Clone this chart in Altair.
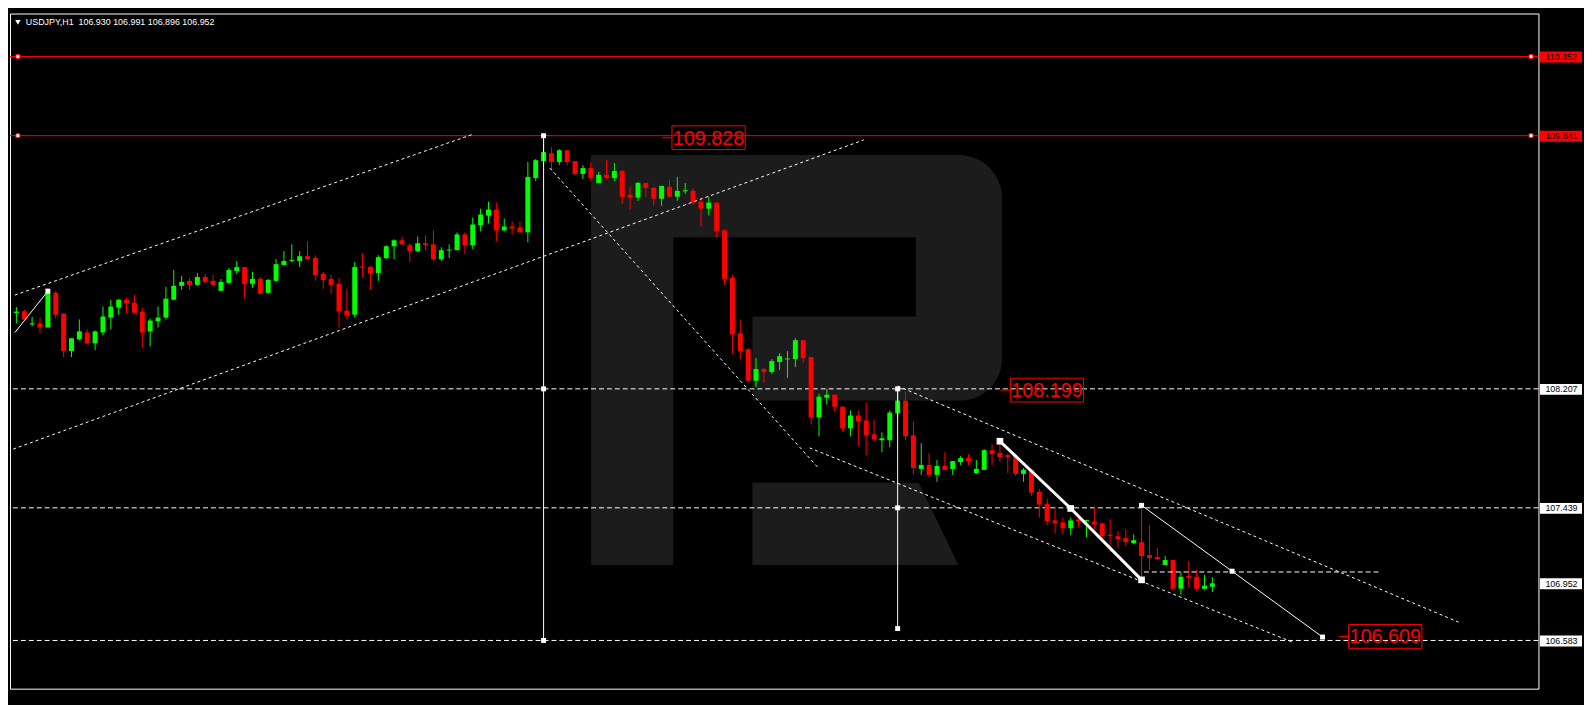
import json
import altair as alt
import pandas as pd

# ---------------- data ----------------
symbol = "USDJPY"
timeframe = "H1"

opens = [108.697, 108.708, 108.623, 108.629, 108.603, 108.827, 108.693, 108.452, 108.527, 108.571,
         108.501, 108.571, 108.667, 108.731, 108.782, 108.763, 108.706, 108.578, 108.642, 108.667,
         108.782, 108.872, 108.904, 108.878, 108.929, 108.904, 108.840, 108.891, 108.968, 108.993,
         108.885, 108.916, 108.827, 108.904, 109.006, 109.033, 109.032, 109.063, 109.051, 108.948,
         108.916, 108.885, 108.712, 108.686, 108.996, 108.993, 108.955, 109.051, 109.127, 109.166,
         109.134, 109.095, 109.147, 109.140, 109.044, 109.100, 109.102, 109.204, 109.134, 109.262,
         109.325, 109.364, 109.230, 109.255, 109.249, 109.217, 109.568, 109.677, 109.728, 109.671,
         109.747, 109.677, 109.594, 109.632, 109.536, 109.588, 109.568, 109.613, 109.460, 109.441,
         109.536, 109.504, 109.434, 109.511, 109.447, 109.482, 109.485, 109.415, 109.370, 109.409,
         109.230, 108.923, 108.565, 108.463, 108.259, 108.335, 108.316, 108.380, 108.397, 108.399,
         108.521, 108.412, 108.022, 108.150, 108.169, 108.092, 107.952, 108.035, 108.003, 107.913,
         107.875, 107.875, 108.048, 108.131, 107.907, 107.690, 107.716, 107.652, 107.709, 107.690,
         107.735, 107.760, 107.664, 107.684, 107.811, 107.792, 107.779, 107.773, 107.658, 107.684,
         107.543, 107.466, 107.358, 107.345, 107.307, 107.364, 107.353, 107.351, 107.339, 107.265,
         107.256, 107.243, 107.211, 107.217, 107.134, 107.121, 107.070, 107.102, 106.917, 107.000,
         106.994, 106.917, 106.930]
highs = [108.735, 108.718, 108.672, 108.667, 108.838, 108.838, 108.693, 108.533, 108.655, 108.591,
         108.584, 108.738, 108.782, 108.789, 108.795, 108.814, 108.731, 108.661, 108.738, 108.865,
         108.974, 108.936, 108.923, 108.955, 108.948, 108.942, 108.916, 108.987, 109.032, 108.993,
         108.961, 108.929, 108.916, 109.044, 109.095, 109.140, 109.095, 109.159, 109.070, 108.961,
         108.942, 108.923, 108.853, 109.025, 109.083, 109.000, 109.070, 109.134, 109.172, 109.191,
         109.147, 109.191, 109.198, 109.230, 109.121, 109.140, 109.217, 109.217, 109.313, 109.370,
         109.415, 109.409, 109.306, 109.287, 109.287, 109.671, 109.690, 109.828, 109.766, 109.754,
         109.747, 109.677, 109.651, 109.671, 109.607, 109.683, 109.664, 109.619, 109.517, 109.543,
         109.536, 109.511, 109.517, 109.556, 109.575, 109.536, 109.504, 109.441, 109.447, 109.409,
         109.236, 108.942, 108.655, 108.469, 108.405, 108.342, 108.399, 108.437, 108.450, 108.533,
         108.521, 108.412, 108.175, 108.207, 108.169, 108.092, 108.067, 108.067, 108.118, 108.009,
         107.926, 108.067, 108.199, 108.188, 107.997, 107.856, 107.792, 107.748, 107.799, 107.741,
         107.773, 107.786, 107.748, 107.818, 107.850, 107.869, 107.786, 107.773, 107.696, 107.684,
         107.562, 107.498, 107.447, 107.377, 107.377, 107.396, 107.362, 107.447, 107.339, 107.364,
         107.288, 107.300, 107.268, 107.455, 107.326, 107.179, 107.128, 107.102, 107.026, 107.096,
         107.038, 107.006, 106.991]
lows = [108.629, 108.650, 108.612, 108.567, 108.603, 108.661, 108.412, 108.412, 108.520, 108.495,
        108.456, 108.552, 108.591, 108.686, 108.693, 108.699, 108.469, 108.482, 108.603, 108.655,
        108.782, 108.846, 108.846, 108.872, 108.885, 108.872, 108.840, 108.885, 108.948, 108.789,
        108.859, 108.821, 108.821, 108.897, 109.006, 109.023, 108.993, 109.044, 108.904, 108.853,
        108.821, 108.603, 108.655, 108.667, 108.923, 108.846, 108.904, 109.044, 109.044, 109.134,
        109.025, 109.089, 109.102, 109.032, 109.032, 109.051, 109.102, 109.076, 109.108, 109.223,
        109.274, 109.159, 109.223, 109.204, 109.217, 109.153, 109.549, 109.677, 109.619, 109.651,
        109.651, 109.588, 109.562, 109.549, 109.536, 109.562, 109.549, 109.402, 109.364, 109.421,
        109.447, 109.389, 109.389, 109.441, 109.421, 109.466, 109.396, 109.255, 109.326, 109.185,
        108.878, 108.431, 108.399, 108.252, 108.220, 108.246, 108.303, 108.329, 108.278, 108.348,
        108.374, 107.977, 107.901, 108.105, 108.060, 107.933, 107.901, 107.837, 107.779, 107.869,
        107.798, 107.830, 108.022, 107.875, 107.658, 107.652, 107.639, 107.607, 107.684, 107.652,
        107.716, 107.716, 107.658, 107.684, 107.716, 107.735, 107.664, 107.645, 107.607, 107.517,
        107.377, 107.326, 107.275, 107.268, 107.262, 107.313, 107.249, 107.300, 107.236, 107.153,
        107.179, 107.192, 107.204, 106.974, 107.038, 107.102, 107.070, 106.904, 106.879, 106.923,
        106.904, 106.911, 106.896]
closes = [108.706, 108.655, 108.630, 108.603, 108.827, 108.686, 108.452, 108.533, 108.578, 108.501,
          108.578, 108.674, 108.738, 108.782, 108.757, 108.699, 108.571, 108.648, 108.667, 108.789,
          108.872, 108.897, 108.878, 108.929, 108.897, 108.878, 108.897, 108.974, 108.993, 108.885,
          108.916, 108.821, 108.910, 109.012, 109.032, 109.040, 109.063, 109.044, 108.942, 108.910,
          108.878, 108.706, 108.680, 108.993, 108.989, 108.955, 109.057, 109.127, 109.166, 109.140,
          109.095, 109.147, 109.136, 109.044, 109.102, 109.106, 109.204, 109.134, 109.268, 109.332,
          109.364, 109.230, 109.255, 109.242, 109.217, 109.575, 109.683, 109.735, 109.671, 109.747,
          109.671, 109.594, 109.632, 109.568, 109.588, 109.568, 109.613, 109.447, 109.441, 109.536,
          109.504, 109.434, 109.517, 109.447, 109.485, 109.489, 109.409, 109.370, 109.409, 109.223,
          108.917, 108.559, 108.450, 108.259, 108.335, 108.316, 108.386, 108.418, 108.403, 108.521,
          108.405, 108.022, 108.156, 108.169, 108.092, 107.952, 108.035, 107.997, 107.907, 107.882,
          107.888, 108.054, 108.131, 107.901, 107.696, 107.716, 107.652, 107.709, 107.684, 107.741,
          107.760, 107.741, 107.690, 107.811, 107.786, 107.767, 107.767, 107.658, 107.684, 107.537,
          107.460, 107.351, 107.339, 107.307, 107.358, 107.351, 107.360, 107.332, 107.256, 107.258,
          107.236, 107.217, 107.230, 107.128, 107.115, 107.109, 107.102, 106.917, 106.994, 106.987,
          106.917, 106.936, 106.952]

time_tick_bars = [0, 8, 16, 24, 32, 40, 48, 56, 64, 72, 80, 88, 96, 104, 112, 120, 128, 136, 144, 152]
time_tick_labels = ["2 Jun 2020", "3 Jun 06:00", "3 Jun 14:00", "3 Jun 22:00", "4 Jun 06:00",
                    "4 Jun 14:00", "4 Jun 22:00", "5 Jun 06:00", "5 Jun 14:00", "5 Jun 22:00",
                    "8 Jun 06:00", "8 Jun 14:00", "8 Jun 22:00", "9 Jun 06:00", "9 Jun 14:00",
                    "9 Jun 22:00", "10 Jun 06:00", "10 Jun 14:00", "10 Jun 22:00", "11 Jun 06:00"]
price_ticks = [110.505, 110.295, 110.085, 109.875, 109.665, 109.450, 109.240, 109.030, 108.820,
               108.605, 108.395, 108.185, 107.975, 107.765, 107.550, 107.340, 107.130, 106.920,
               106.710, 106.495, 106.285]

red_levels = [110.352, 109.841]
white_levels = [108.207, 107.439, 106.583]
bid_price = 106.952

# trend-line anchors (bar index, price)
up_top_bars, up_top_prices = [-0.2, 58.0], [108.812, 109.850]
up_bottom_bars, up_bottom_prices = [-0.41, 107.7], [107.818, 109.814]
fall_bars, fall_prices = [67.8, 101.8], [109.632, 107.703]
down_top_bars, down_top_prices = [112.0, 183.3], [108.225, 106.701]
down_bottom_bars, down_bottom_prices = [100.8, 162.1], [107.826, 106.574]
wave_bars, wave_prices = [125, 134, 143], [107.869, 107.435, 106.974]
proj_bars, proj_prices = [143, 154.5, 166], [107.455, 107.030, 106.605]
lead_bars, lead_prices = [-0.19, 4], [108.571, 108.838]
target_bars, target_prices = [143.3, 173.1], [107.025, 107.025]
v1_bar, v1_prices = 67, [109.841, 108.207, 106.583]
v2_bar, v2_prices = 112, [108.207, 107.439, 106.660]
tag_bars, tag_prices = [82.06, 125.06, 168.06], [109.828, 108.199, 106.609]
level_marker_bars = [0.19, 192.5]

# ---------------- styles ----------------
BG, FG = "#000000", "#ffffff"
BULL, BEAR = "#00ff00", "#ff0000"
LOGO = "#1c1c1c"
AXFONT = "Liberation Sans"
TAGFONT = "Liberation Sans"

x_scale = alt.Scale(domain=[-0.1875, 192.8125], nice=False, zero=False)
y_scale = alt.Scale(domain=[106.2718, 110.6296], nice=False, zero=False)

common_axis = dict(domainColor=FG, tickColor=FG, labelColor=FG, labelFont=AXFONT, labelFontSize=9,
                   tickSize=3, grid=False, labelOverlap=False, labelFlush=False, title=None)
x_axis = alt.Axis(orient="bottom", values=time_tick_bars, labelAlign="left", labelBaseline="top",
                  labelPadding=2,
                  labelExpr=f"{json.dumps(time_tick_labels)}[indexof({json.dumps(time_tick_bars)}, datum.value)]",
                  **common_axis)
y_axis = alt.Axis(orient="right", values=price_ticks, format=".3f", labelAlign="left",
                  labelBaseline="middle", labelPadding=3, **common_axis)


def X(f):
    return alt.X(f, type="quantitative", scale=x_scale, axis=None)


def Y(f):
    return alt.Y(f, type="quantitative", scale=y_scale, axis=None)


one = pd.DataFrame({"k": [0]})

# ---------------- watermark logo (decoration, pixel placed) ----------------
def block(x0, x1, y0, y1, **kw):
    return alt.Chart(one).mark_rect(color=LOGO, **kw).encode(
        x=alt.value(x0), x2=alt.value(x1), y=alt.value(y0), y2=alt.value(y1))

logo = [
    block(587, 670, 143, 557),
    block(587, 925, 143, 226),
    block(915, 1002, 143, 391, cornerRadiusTopRight=62, cornerRadiusBottomRight=42),
    block(750, 925, 306, 391),
    alt.Chart(one).mark_point(shape="M0,0L1.68,0L2.08,0.83L0,0.83Z", size=40000, filled=True,
                              opacity=1, color=LOGO, strokeWidth=0).encode(
        x=alt.value(750), y=alt.value(474)),
]

# ---------------- candles ----------------
candles = pd.DataFrame({"bar": list(range(len(opens))), "open": opens, "high": highs,
                        "low": lows, "close": closes})
dir_color = alt.condition("datum.close >= datum.open", alt.value(BULL), alt.value(BEAR))
wicks = alt.Chart(candles).mark_rule(strokeWidth=1).encode(
    x=alt.X("bar:Q", scale=x_scale, axis=x_axis),
    y=alt.Y("low:Q", scale=y_scale, axis=y_axis),
    y2="high:Q", color=dir_color)
bodies = alt.Chart(candles).mark_bar(size=5).encode(
    x=X("bar"), y=Y("open"), y2="close:Q", color=dir_color)

# ---------------- levels ----------------
red_rules = alt.Chart(pd.DataFrame({"price": red_levels})).mark_rule(color=BEAR, strokeWidth=1).encode(
    y=Y("price"))
white_rules = alt.Chart(pd.DataFrame({"price": white_levels})).mark_rule(
    color=FG, strokeWidth=1, strokeDash=[5, 3]).encode(y=Y("price"))


def seg(name, bars, prices):
    return pd.DataFrame({"line": name, "bar": bars, "price": prices, "k": list(range(len(bars)))})


dotted_df = pd.concat([
    seg("up_top", up_top_bars, up_top_prices),
    seg("up_bottom", up_bottom_bars, up_bottom_prices),
    seg("fall", fall_bars, fall_prices),
    seg("down_top", down_top_bars, down_top_prices),
    seg("down_bottom", down_bottom_bars, down_bottom_prices),
])
dotted = alt.Chart(dotted_df).mark_line(color=FG, strokeWidth=1, strokeDash=[3, 3], clip=True).encode(
    x=X("bar"), y=Y("price"), detail="line:N", order="k:Q")

thin_df = pd.concat([seg("lead", lead_bars, lead_prices), seg("proj", proj_bars, proj_prices)])
thin = alt.Chart(thin_df).mark_line(color=FG, strokeWidth=1, clip=True).encode(
    x=X("bar"), y=Y("price"), detail="line:N", order="k:Q")

target = alt.Chart(seg("target", target_bars, target_prices)).mark_line(
    color=FG, strokeWidth=1, strokeDash=[5, 3]).encode(x=X("bar"), y=Y("price"), order="k:Q")

wave = alt.Chart(seg("wave", wave_bars, wave_prices)).mark_line(color=FG, strokeWidth=3).encode(
    x=X("bar"), y=Y("price"), order="k:Q")

vert_df = pd.DataFrame({"bar": [v1_bar, v2_bar], "top": [max(v1_prices), max(v2_prices)],
                        "bottom": [min(v1_prices), min(v2_prices)]})
verticals = alt.Chart(vert_df).mark_rule(color=FG, strokeWidth=1).encode(
    x=X("bar"), y=Y("top"), y2="bottom:Q")

small_pts = pd.DataFrame({
    "bar": [v1_bar] * 3 + [v2_bar] * 3 + proj_bars + [lead_bars[-1]],
    "price": v1_prices + v2_prices + proj_prices + [lead_prices[-1]],
})
small_markers = alt.Chart(small_pts).mark_square(size=25, color=FG, opacity=1).encode(
    x=X("bar"), y=Y("price"))
big_markers = alt.Chart(seg("wave", wave_bars, wave_prices)).mark_square(size=45, color=FG, opacity=1).encode(
    x=X("bar"), y=Y("price"))

lvl_pts = pd.DataFrame({"bar": level_marker_bars * 2,
                        "price": [red_levels[0]] * 2 + [red_levels[1]] * 2})
level_markers = alt.Chart(lvl_pts).mark_square(size=16, fill=FG, stroke=BEAR, strokeWidth=1,
                                               opacity=1, filled=True).encode(x=X("bar"), y=Y("price"))

# ---------------- price tags ----------------
tags = pd.DataFrame({"bar": tag_bars, "price": tag_prices,
                     "label": [f"{p:.3f}" for p in tag_prices]})
tag_dash = alt.Chart(tags).mark_rule(color=BEAR, strokeWidth=1, x2Offset=10).encode(
    x=X("bar"), x2="bar:Q", y=Y("price"))
tag_box = alt.Chart(tags).mark_rect(fill=BG, fillOpacity=0, stroke=BEAR, strokeWidth=1,
                                    xOffset=10, x2Offset=84, yOffset=-12, y2Offset=12).encode(
    x=X("bar"), x2="bar:Q", y=Y("price"), y2="price:Q")
tag_text = alt.Chart(tags).mark_text(color=BEAR, font=TAGFONT, fontSize=20, align="center",
                                     baseline="middle", dx=47, dy=1).encode(
    x=X("bar"), y=Y("price"), text="label:N")

# ---------------- axis price boxes ----------------
def axis_boxes(levels, fill):
    d = pd.DataFrame({"price": levels, "label": [f"{p:.3f}" for p in levels]})
    box = alt.Chart(d).mark_rect(color=fill, yOffset=-5, y2Offset=6).encode(
        x=alt.value(1545.5), x2=alt.value(1588), y=Y("price"), y2="price:Q")
    txt = alt.Chart(d).mark_text(color="#000000", font=AXFONT, fontSize=9, align="left",
                                 baseline="middle", dy=0.5).encode(
        x=alt.value(1551), y=Y("price"), text="label:N")
    return [box, txt]

red_boxes = axis_boxes(red_levels, BEAR)
white_boxes = axis_boxes(white_levels + [bid_price], FG)

# ---------------- header ----------------
header_text = (f"{symbol},{timeframe}\u00a0\u00a0{opens[-1]:.3f} {highs[-1]:.3f} "
               f"{lows[-1]:.3f} {closes[-1]:.3f}")
header_tri = alt.Chart(one).mark_point(shape="triangle-down", size=30, filled=True, opacity=1,
                                       color=FG).encode(x=alt.value(8), y=alt.value(9))
header = alt.Chart(one).mark_text(text=header_text, color=FG, font=AXFONT, fontSize=9,
                                  align="left", baseline="middle").encode(
    x=alt.value(16), y=alt.value(9))

page_css = ("html,body{margin:0!important;padding:0!important;background:#000!important;"
            "overflow:hidden!important} #vis{margin:0!important;padding:0!important} "
            "#vis svg{display:block}")

chart = alt.layer(
    *logo, red_rules, white_rules, wicks, bodies, dotted, thin, target, wave, verticals,
    small_markers, big_markers, level_markers, tag_dash, tag_box, tag_text,
    *red_boxes, *white_boxes, header_tri, header,
).properties(
    width=1544, height=682, background=BG,
    padding={"left": 2, "top": 2, "right": 46, "bottom": 21},
    autosize=alt.AutoSizeParams(type="none"),
    usermeta={"embedOptions": {"defaultStyle": page_css}},
).configure_view(stroke=FG, strokeWidth=1)

chart.save("out.html", embed_options={"renderer": "svg", "actions": False})
